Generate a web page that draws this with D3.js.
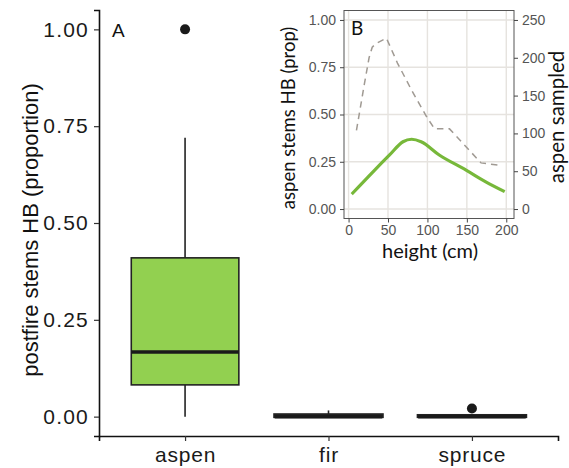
<!DOCTYPE html>
<html>
<head>
<meta charset="utf-8">
<script src="https://cdn.jsdelivr.net/npm/d3@7"></script>
<style>
  body { margin: 0; background: #fff; }
  svg { display: block; }
</style>
</head>
<body>
<div id="chart"></div>
<script>
// main panel (A): boxplot summaries
var species = ["aspen", "fir", "spruce"];
var boxMin = [0, 0, 0];
var boxQ1 = [0.082, 0, 0];
var boxMedian = [0.167, 0, 0];
var boxQ3 = [0.41, 0.005, 0.003];
var boxMax = [0.72, 0.016, 0.003];
var outliers = [[1.0], [], [0.021]];
var mainTicks = [0, 0.25, 0.5, 0.75, 1];

// inset (B)
var heightTicks = [0, 50, 100, 150, 200];
var propTicks = [0, 0.25, 0.5, 0.75, 1];
var countTicks = [0, 50, 100, 150, 200, 250];
var propHeight = [4, 31, 52, 69, 80, 92, 115, 149, 174, 198];
var propValue = [0.079, 0.197, 0.286, 0.356, 0.369, 0.356, 0.286, 0.206, 0.144, 0.092];
var sampledHeight = [10, 20, 26, 30, 35, 48, 62, 80, 99, 109, 128, 168, 191];
var sampledCount = [104, 165, 200, 214, 219, 226, 193, 157, 122, 106, 106, 61, 58];

var W = 569, H = 468;
var svg = d3.select("#chart").append("svg").attr("width", W).attr("height", H);

var sans = "'Liberation Sans', Arial, sans-serif";
var humanist = "Lato, 'Open Sans', sans-serif";

// ---------- panel A ----------
var x = d3.scalePoint().domain(species).range([99, 558]).padding(0.6);
var y = d3.scaleLinear().domain([-0.05, 1.05]).range([436, 10]);
var boxW = x.step() * 0.75;

var yAxis = svg.append("g")
    .attr("transform", "translate(99,0)")
    .call(d3.axisLeft(y).tickValues(mainTicks).tickFormat(d3.format(".2f")).tickSizeOuter(0).tickSize(5).tickPadding(5));
yAxis.select(".domain").attr("stroke", "#111").attr("stroke-width", 1.6);
yAxis.selectAll(".tick line").attr("stroke", "#333").attr("stroke-width", 1.2);
yAxis.selectAll(".tick text").attr("fill", "#1a1a1a").style("font-family", sans)
    .style("font-size", "21px").style("letter-spacing", "1.2px");

var xAxis = svg.append("g")
    .attr("transform", "translate(0,436)")
    .call(d3.axisBottom(x).tickSizeOuter(0).tickSize(5).tickPadding(6));
xAxis.select(".domain").attr("stroke", "#111").attr("stroke-width", 1.6);
xAxis.selectAll(".tick line").attr("stroke", "#333").attr("stroke-width", 1.2);
xAxis.selectAll(".tick text").attr("fill", "#1a1a1a").style("font-family", sans)
    .style("font-size", "21px").style("letter-spacing", "0.8px");

svg.append("text")
    .attr("transform", "translate(37.5,230) rotate(-90)")
    .attr("text-anchor", "middle")
    .style("font-family", sans).style("font-size", "22px").attr("fill", "#111")
    .text("postfire stems HB (proportion)");

svg.append("text").attr("x", 112).attr("y", 37)
    .style("font-family", sans).style("font-size", "19px").attr("fill", "#111")
    .text("A");

var boxes = svg.append("g").selectAll("g.box")
    .data(species).enter().append("g").attr("class", "box");

// whiskers
boxes.append("line")
    .attr("x1", function (d) { return x(d); })
    .attr("x2", function (d) { return x(d); })
    .attr("y1", function (d, i) { return y(boxMax[i]); })
    .attr("y2", function (d, i) { return y(boxQ3[i]); })
    .attr("stroke", "#222").attr("stroke-width", 1.6);
boxes.append("line")
    .attr("x1", function (d) { return x(d); })
    .attr("x2", function (d) { return x(d); })
    .attr("y1", function (d, i) { return y(boxQ1[i]); })
    .attr("y2", function (d, i) { return y(boxMin[i]); })
    .attr("stroke", "#222").attr("stroke-width", 1.6);

boxes.append("rect")
    .attr("x", function (d) { return x(d) - boxW / 2; })
    .attr("width", boxW)
    .attr("y", function (d, i) { return y(boxQ3[i]); })
    .attr("height", function (d, i) { return Math.max(0.5, y(boxQ1[i]) - y(boxQ3[i])); })
    .attr("fill", "#92d050")
    .attr("stroke", "#222").attr("stroke-width", function (d, i) { return i === 0 ? 1.6 : 3; });

boxes.append("line")
    .attr("x1", function (d) { return x(d) - boxW / 2; })
    .attr("x2", function (d) { return x(d) + boxW / 2; })
    .attr("y1", function (d, i) { return y(boxMedian[i]); })
    .attr("y2", function (d, i) { return y(boxMedian[i]); })
    .attr("stroke", "#1a1a1a").attr("stroke-width", 3.5);

boxes.each(function (d, i) {
  d3.select(this).selectAll("circle")
      .data(outliers[i]).enter().append("circle")
      .attr("cx", x(d))
      .attr("cy", function (v) { return y(v); })
      .attr("r", 5)
      .attr("fill", "#1a1a1a");
});

// ---------- panel B (inset) ----------
var inset = svg.append("g");
inset.append("rect").attr("x", 275).attr("y", 0).attr("width", W - 275).attr("height", 266).attr("fill", "#fff");

var xi = d3.scaleLinear().domain([-5.8, 209.8]).range([344, 514]);
var yi = d3.scaleLinear().domain([-0.05, 1.05]).range([218.5, 10.5]);
var yr = d3.scaleLinear().domain([-12.5, 262.5]).range([218.5, 10.5]);

// grid
inset.append("g").selectAll("line.v").data(heightTicks).enter().append("line")
    .attr("x1", function (d) { return xi(d); }).attr("x2", function (d) { return xi(d); })
    .attr("y1", 10.5).attr("y2", 218.5)
    .attr("stroke", "#e6e3df").attr("stroke-width", 1.4);
inset.append("g").selectAll("line.h").data(propTicks).enter().append("line")
    .attr("x1", 344).attr("x2", 514)
    .attr("y1", function (d) { return yi(d); }).attr("y2", function (d) { return yi(d); })
    .attr("stroke", "#e6e3df").attr("stroke-width", 1.4);

var dashed = d3.line()
    .x(function (d, i) { return xi(sampledHeight[i]); })
    .y(function (d) { return yr(d); });
inset.append("path")
    .attr("d", dashed(sampledCount))
    .attr("fill", "none").attr("stroke", "#a09a93").attr("stroke-width", 1.5)
    .attr("stroke-dasharray", "6.5,5");

var solid = d3.line()
    .x(function (d, i) { return xi(propHeight[i]); })
    .y(function (d) { return yi(d); })
    .curve(d3.curveMonotoneX);
inset.append("path")
    .attr("d", solid(propValue))
    .attr("fill", "none").attr("stroke", "#77b83a").attr("stroke-width", 3.2)
    .attr("stroke-linejoin", "round");

inset.append("rect").attr("x", 344).attr("y", 10.5).attr("width", 170).attr("height", 208)
    .attr("fill", "none").attr("stroke", "#555").attr("stroke-width", 1);

function styleInsetAxis(g) {
  g.select(".domain").remove();
  g.selectAll(".tick line").attr("stroke", "#444").attr("stroke-width", 1);
  g.selectAll(".tick text").attr("fill", "#555").style("font-family", sans).style("font-size", "14px");
}

inset.append("g").attr("transform", "translate(344,0)")
    .call(d3.axisLeft(yi).tickValues(propTicks).tickFormat(d3.format(".2f")).tickSize(4).tickPadding(4))
    .call(styleInsetAxis);
inset.append("g").attr("transform", "translate(514,0)")
    .call(d3.axisRight(yr).tickValues(countTicks).tickSize(4).tickPadding(4))
    .call(styleInsetAxis);
inset.append("g").attr("transform", "translate(0,218.5)")
    .call(d3.axisBottom(xi).tickValues(heightTicks).tickSize(4).tickPadding(3))
    .call(styleInsetAxis);

inset.append("text").attr("x", 430).attr("y", 258)
    .attr("text-anchor", "middle")
    .style("font-family", humanist).style("font-size", "20px").attr("fill", "#111")
    .text("height (cm)");
inset.append("text")
    .attr("transform", "translate(295,118) rotate(-90)")
    .attr("text-anchor", "middle")
    .style("font-family", humanist).style("font-size", "18.5px").attr("fill", "#111")
    .text("aspen stems HB (prop)");
inset.append("text")
    .attr("transform", "translate(564,117) rotate(-90)")
    .attr("text-anchor", "middle")
    .style("font-family", humanist).style("font-size", "20.5px").attr("fill", "#111")
    .text("aspen sampled");
inset.append("text").attr("x", 351).attr("y", 35)
    .style("font-family", humanist).style("font-size", "19px").attr("fill", "#111")
    .text("B");
</script>
</body>
</html>
